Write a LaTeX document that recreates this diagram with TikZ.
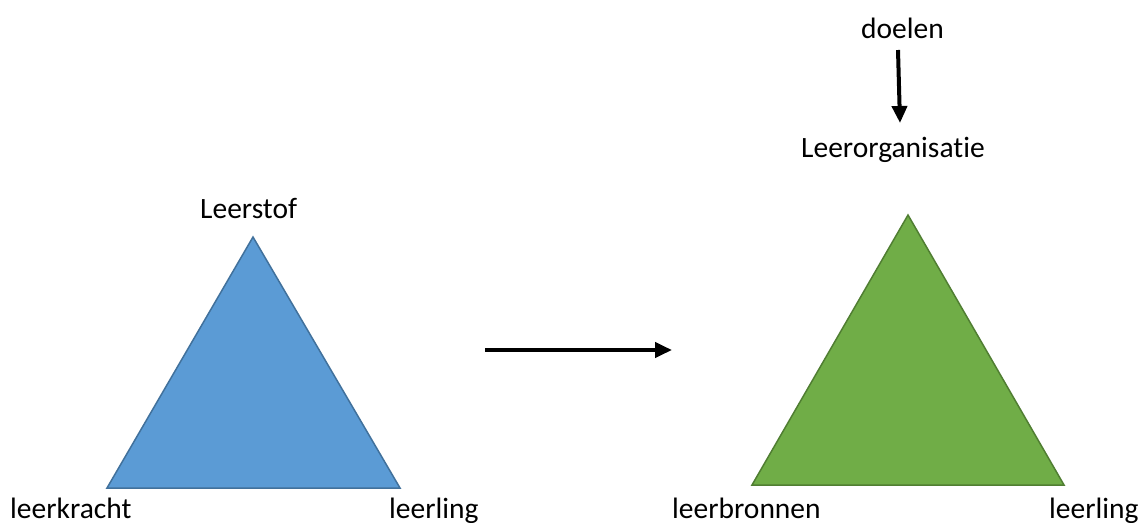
\documentclass[tikz,border=0pt]{standalone}
\usepackage{fontspec}
\setmainfont{Carlito}[Ligatures={NoCommon}]
\usetikzlibrary{arrows.meta}
\begin{document}
\begin{tikzpicture}[x=1pt,y=-1pt,
  lbl/.style={inner sep=0pt,font=\fontsize{29.5}{35}\selectfont,anchor=base west},
  bluetri/.style={fill={rgb,255:red,91;green,155;blue,213},draw={rgb,255:red,65;green,113;blue,156},line width=1.5pt,line join=miter},
  greentri/.style={fill={rgb,255:red,112;green,173;blue,71},draw={rgb,255:red,80;green,126;blue,50},line width=1.5pt,line join=miter},
  bigarrow/.style={line width=4pt,-{Triangle[length=17pt,width=15pt]}}]
\useasboundingbox (0,0) rectangle (1142,522);
% left triangle
\coordinate (A1) at (253,237);
\coordinate (B1) at (107,488);
\coordinate (C1) at (400,488);
\draw[bluetri] (A1) -- (B1) -- (C1) -- cycle;
% right triangle
\coordinate (A2) at (908,215);
\coordinate (B2) at (752,485);
\coordinate (C2) at (1064,485);
\draw[greentri] (A2) -- (B2) -- (C2) -- cycle;
% labels
\node[lbl] (leerstof) at (200,218) {Leerstof};
\node[lbl] (leerkracht) at (10,518) {leerkracht};
\node[lbl] (leerling1) at (389,518) {leerling};
\node[lbl] (leerbronnen) at (672,518) {leerbronnen};
\node[lbl] (leerling2) at (1049,518) {leerling};
\node[lbl] (doelen) at (861,38) {doelen};
\node[lbl] (org) at (801,157) {Leerorganisatie};
% arrows
\coordinate (h1) at (485,350);
\coordinate (h2) at (672,350);
\draw[bigarrow] (h1) -- (h2);
\coordinate (v1) at (898,50);
\coordinate (v2) at (900,123);
\draw[bigarrow] (v1) -- (v2);
\end{tikzpicture}
\end{document}
